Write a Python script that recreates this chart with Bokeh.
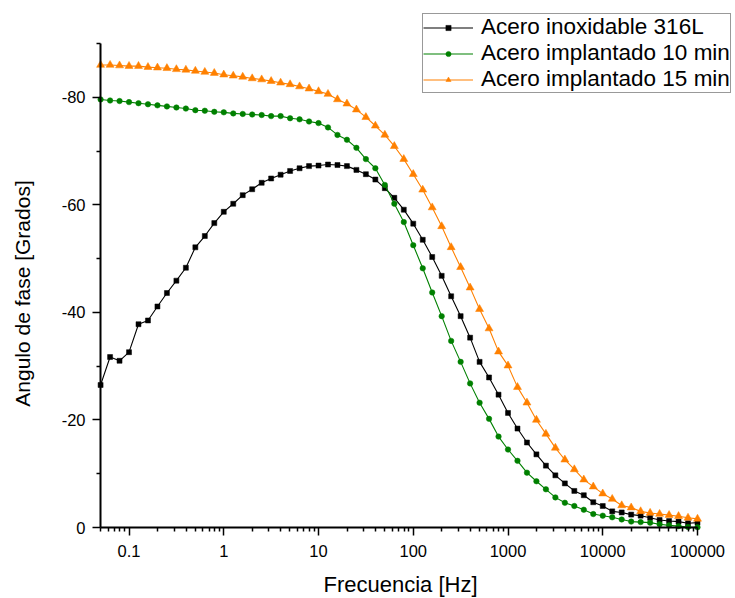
import math
from bokeh.plotting import figure
from bokeh.models import (Range1d, FixedTicker, Legend, LegendItem, Label,
                          CustomJSTickFormatter)
from bokeh.embed import file_html
from bokeh.resources import INLINE

# Frequency [Hz] (10 points per decade, 0.05 Hz .. 100 kHz)
freq = [0.0501, 0.0631, 0.0794,
        0.1, 0.1259, 0.1585, 0.1995, 0.2512, 0.3162, 0.3981, 0.5012, 0.631, 0.7943,
        1, 1.259, 1.585, 1.995, 2.512, 3.162, 3.981, 5.012, 6.31, 7.943,
        10, 12.59, 15.85, 19.95, 25.12, 31.62, 39.81, 50.12, 63.1, 79.43,
        100, 125.9, 158.5, 199.5, 251.2, 316.2, 398.1, 501.2, 631, 794.3,
        1000, 1259, 1585, 1995, 2512, 3162, 3981, 5012, 6310, 7943,
        10000, 12589, 15849, 19953, 25119, 31623, 39811, 50119, 63096, 79433,
        100000]

# Phase angle [deg]
acero_316L = [-26.5, -31.7, -31.0, -32.6, -37.8, -38.5, -41.1, -43.6, -45.9, -48.3,
              -52.1, -54.2, -56.6, -58.7, -60.2, -61.8, -62.9, -64.1, -64.9, -65.6,
              -66.3, -66.8, -67.2, -67.3, -67.5, -67.4, -67.2, -66.5, -65.7, -64.7,
              -63.1, -61.3, -59.1, -56.5, -53.5, -50.3, -46.8, -43.0, -39.3, -35.3,
              -30.8, -27.9, -24.7, -21.3, -18.4, -15.8, -13.6, -11.5, -9.7, -8.2,
              -6.8, -6.0, -4.7, -4.0, -3.0, -2.8, -2.4, -2.2, -1.8, -1.4,
              -1.2, -1.1, -0.8, -0.9]

implantado_10 = [-79.6, -79.4, -79.3, -79.1, -78.9, -78.7, -78.5, -78.3, -78.1, -77.9,
                 -77.6, -77.5, -77.3, -77.2, -77.0, -76.9, -76.8, -76.7, -76.5, -76.5,
                 -76.1, -75.9, -75.5, -75.2, -74.4, -73.0, -72.1, -70.6, -68.5, -66.8,
                 -63.7, -60.2, -56.8, -52.5, -48.2, -43.7, -39.3, -34.7, -30.8, -26.8,
                 -23.2, -20.2, -16.9, -14.5, -12.4, -10.2, -8.6, -7.1, -5.6, -4.6,
                 -4.0, -3.3, -2.5, -2.2, -1.9, -1.5, -1.1, -1.0, -0.9, -0.6,
                 -0.4, -0.25, -0.1, -0.05]

implantado_15 = [-86.0, -86.0, -85.9, -85.8, -85.8, -85.6, -85.5, -85.4, -85.2, -85.1,
                 -84.9, -84.7, -84.5, -84.2, -84.0, -83.8, -83.5, -83.3, -83.0, -82.7,
                 -82.4, -82.0, -81.6, -81.1, -80.6, -79.6, -78.8, -77.7, -76.3, -74.7,
                 -73.0, -70.9, -68.5, -65.7, -62.8, -59.5, -56.0, -52.1, -48.4, -44.6,
                 -40.6, -37.0, -32.7, -30.1, -26.1, -23.2, -20.0, -17.4, -14.8, -12.6,
                 -10.8, -8.9, -7.6, -6.3, -5.3, -4.1, -3.7, -3.0, -2.7, -2.5,
                 -2.3, -2.1, -1.8, -1.6]

labels = ["Acero inoxidable 316L", "Acero implantado 10 min", "Acero implantado 15 min"]
x_title = "Frecuencia [Hz]"
y_title = "Angulo de fase [Grados]"
x_ticks = [0.1, 1, 10, 100, 1000, 10000, 100000]
y_ticks = [0, -20, -40, -60, -80]
y_minor = [-10, -30, -50, -70, -90]

FONT = "Liberation Sans"

# Visible axes: x 0.05 .. 100000 (log), y 0 .. -90 (inverted).
# The plotting frame fills the whole canvas and the axes are pinned with
# fixed_location, so the legend (partly outside the axes, as in the
# original) and the axis texts are not clipped.
p = figure(width=735, height=598, x_axis_type="log",
           x_range=Range1d(0.0044002, 251810), y_range=Range1d(13.2025, -97.996),
           output_backend="svg", toolbar_location=None,
           min_border_left=0, min_border_right=0,
           min_border_top=0, min_border_bottom=0)
p.title.visible = False
p.xgrid.visible = False
p.ygrid.visible = False
p.outline_line_color = None
p.background_fill_color = "white"
p.border_fill_color = "white"

p.xaxis.fixed_location = 0
p.yaxis.fixed_location = 0.05
p.xaxis.bounds = (0.05, 100000)
p.yaxis.bounds = (-90, 0)

x_minor = [m * d for d in [0.01, 0.1, 1, 10, 100, 1000, 10000] for m in range(2, 10)]
x_minor = [v for v in x_minor if 0.05 <= v <= 100000]

p.xaxis.ticker = FixedTicker(ticks=x_ticks, minor_ticks=x_minor)
p.yaxis.ticker = FixedTicker(ticks=y_ticks, minor_ticks=y_minor)
p.xaxis.formatter = CustomJSTickFormatter(code="return tick.toString();")
p.yaxis.formatter = CustomJSTickFormatter(code="return tick.toString();")

for ax in (p.xaxis[0], p.yaxis[0]):
    ax.axis_line_width = 2
    ax.axis_line_color = "black"
    ax.major_tick_line_width = 1.5
    ax.minor_tick_line_width = 1.5
    ax.major_tick_line_color = "black"
    ax.minor_tick_line_color = "black"
    ax.major_tick_out = 8
    ax.major_tick_in = 0
    ax.minor_tick_out = 4
    ax.minor_tick_in = 0
    ax.major_label_text_font = FONT
    ax.major_label_text_font_size = "16.5px"
    ax.major_label_text_color = "black"
p.xaxis.major_label_standoff = 9
p.yaxis.major_label_standoff = 7

# Axis titles
p.add_layout(Label(x=400, y=14, x_units="screen", y_units="screen", text=x_title,
                   text_align="center", text_baseline="alphabetic",
                   text_font=FONT, text_font_size="22px", text_color="black"))
p.add_layout(Label(x=22, y=305, x_units="screen", y_units="screen", text=y_title,
                   angle=math.pi / 2, text_align="center", text_baseline="alphabetic",
                   text_font=FONT, text_font_size="21px", text_color="black"))

series = [
    (acero_316L, "black", "square", 5),
    (implantado_10, "#008000", "circle", 5.5),
    (implantado_15, "#FF8000", "triangle", 8),
]

items = []
for (vals, color, marker, size), lab in zip(series, labels):
    ln = p.line(freq, vals, line_color=color, line_width=1.1)
    sc = p.scatter(freq, vals, marker=marker, size=size,
                   fill_color=color, line_color=color, line_width=0.5)
    items.append(LegendItem(label=lab, renderers=[ln, sc]))

legend = Legend(items=items, location=(422, 505), margin=0,
                padding=0, spacing=0, glyph_width=50, glyph_height=13,
                label_height=22, label_standoff=8,
                label_text_font=FONT, label_text_font_size="22.5px",
                label_text_color="black",
                border_line_color="#333333", border_line_width=1,
                background_fill_color="white", background_fill_alpha=1)
p.add_layout(legend)

open("out.html", "w").write(file_html(p, INLINE))
